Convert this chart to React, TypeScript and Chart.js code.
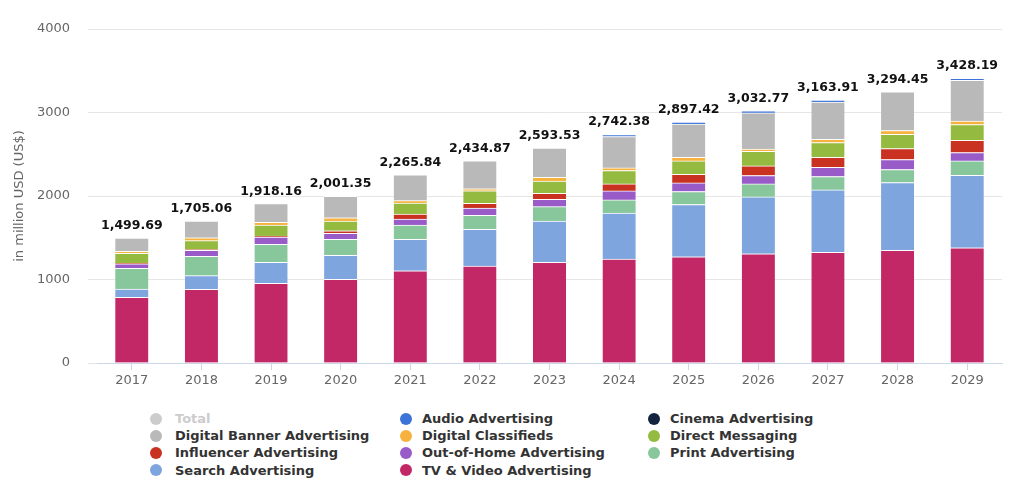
import { useEffect, useRef } from 'react';
import { Chart, registerables } from 'chart.js';

Chart.register(...registerables);

const years = ['2017', '2018', '2019', '2020', '2021', '2022', '2023', '2024', '2025', '2026', '2027', '2028', '2029'];
const totals = [1499.69, 1705.06, 1918.16, 2001.35, 2265.84, 2434.87, 2593.53, 2742.38, 2897.42, 3032.77, 3163.91, 3294.45, 3428.19];

const tvVideo = [787, 883, 954, 1002, 1105, 1162, 1206, 1244, 1272, 1307, 1324, 1348, 1379];
const searchAds = [99, 163, 252, 288, 376, 439, 495, 550, 626, 682, 749, 813, 870];
const printAds = [248, 232, 216, 191, 172, 168, 171, 159, 156, 156, 160, 156, 171];
const outOfHome = [55, 72, 87, 72, 72, 87, 88, 108, 103, 100, 111, 120, 100];
const influencer = [5, 8, 12, 31, 59, 56, 72, 84, 104, 115, 120, 131, 147];
const directMessaging = [120, 107, 132, 117, 132, 151, 148, 160, 159, 176, 176, 171, 188];
const classifieds = [24, 35, 32, 39, 28, 24, 44, 31, 44, 27, 39, 44, 43];
const digitalBanner = [159, 200, 225, 255, 311, 333, 351, 376, 396, 432, 446, 465, 487];
const audioAds = [0, 0, 0, 0, 0, 0, 0, 25, 25, 25, 25, 0, 25];
const cinemaAds = [0, 0, 0, 0, 0, 0, 0, 0, 0, 0, 0, 0, 0];

const yTicks = [0, 1000, 2000, 3000, 4000];

const COLORS = {
  total: '#cccccc',
  banner: '#b9b9b9',
  influencer: '#c93220',
  search: '#7fa5df',
  audio: '#3b73d6',
  classifieds: '#f6b23c',
  ooh: '#995bc8',
  tv: '#c32866',
  cinema: '#14243e',
  dm: '#94ba40',
  print: '#88c69b',
};

const FONT = '"DejaVu Sans", sans-serif';

const fmt = (v: number) =>
  v.toLocaleString('en-US', { minimumFractionDigits: 2, maximumFractionDigits: 2 });

const totalLabels = {
  id: 'totalLabels',
  afterDatasetsDraw(chart: any) {
    const ctx = chart.ctx;
    ctx.save();
    ctx.font = 'bold 12.5px ' + FONT;
    ctx.fillStyle = '#111111';
    ctx.textAlign = 'center';
    ctx.textBaseline = 'bottom';
    for (let i = 0; i < years.length; i++) {
      let top = Infinity;
      let x = 0;
      chart.data.datasets.forEach((ds: any, di: number) => {
        if (!chart.isDatasetVisible(di)) return;
        const el = chart.getDatasetMeta(di).data[i];
        if (!el || !ds.data[i]) return;
        if (el.y < top) {
          top = el.y;
          x = el.x;
        }
      });
      if (top < Infinity) ctx.fillText(fmt(totals[i]), x, top - 6);
    }
    ctx.restore();
  },
};

const legendItems = [
  { label: 'Total', color: COLORS.total, hidden: true, col: 0, row: 0 },
  { label: 'Digital Banner Advertising', color: COLORS.banner, col: 0, row: 1 },
  { label: 'Influencer Advertising', color: COLORS.influencer, col: 0, row: 2 },
  { label: 'Search Advertising', color: COLORS.search, col: 0, row: 3 },
  { label: 'Audio Advertising', color: COLORS.audio, col: 1, row: 0 },
  { label: 'Digital Classifieds', color: COLORS.classifieds, col: 1, row: 1 },
  { label: 'Out-of-Home Advertising', color: COLORS.ooh, col: 1, row: 2 },
  { label: 'TV & Video Advertising', color: COLORS.tv, col: 1, row: 3 },
  { label: 'Cinema Advertising', color: COLORS.cinema, col: 2, row: 0 },
  { label: 'Direct Messaging', color: COLORS.dm, col: 2, row: 1 },
  { label: 'Print Advertising', color: COLORS.print, col: 2, row: 2 },
];

const colLeft = [150, 400, 648];
const rowTop = 410;
const rowH = 17.2;

export default function App() {
  const ref = useRef<HTMLCanvasElement>(null);

  useEffect(() => {
    if (!ref.current) return;
    const mk = (label: string, data: number[], color: string) => ({
      label,
      data: data.map((v) => (v ? v : null)),
      backgroundColor: color,
      borderColor: '#ffffff',
      borderWidth: { top: 1, left: 0, right: 0, bottom: 0 },
      borderSkipped: false,
      stack: 's',
      barThickness: 33,
    });
    const chart = new Chart(ref.current, {
      type: 'bar',
      data: {
        labels: years,
        datasets: [
          mk('TV & Video Advertising', tvVideo, COLORS.tv),
          mk('Search Advertising', searchAds, COLORS.search),
          mk('Print Advertising', printAds, COLORS.print),
          mk('Out-of-Home Advertising', outOfHome, COLORS.ooh),
          mk('Influencer Advertising', influencer, COLORS.influencer),
          mk('Direct Messaging', directMessaging, COLORS.dm),
          mk('Digital Classifieds', classifieds, COLORS.classifieds),
          mk('Digital Banner Advertising', digitalBanner, COLORS.banner),
          mk('Audio Advertising', audioAds, COLORS.audio),
          mk('Cinema Advertising', cinemaAds, COLORS.cinema),
          { ...mk('Total', totals, COLORS.total), stack: 'total', hidden: true },
        ] as any,
      },
      options: {
        responsive: false,
        animation: false,
        layout: { padding: { top: 29, right: 22, bottom: 0, left: 0 } },
        plugins: {
          legend: { display: false },
          tooltip: { enabled: false },
        },
        scales: {
          x: {
            stacked: true,
            grid: {
              offset: false,
              drawOnChartArea: false,
              drawTicks: true,
              tickLength: 7,
              color: '#ccd6eb',
            },
            border: { color: '#ccd6eb' },
            ticks: {
              color: '#666666',
              font: { family: FONT, size: 13 },
              padding: 3,
              maxRotation: 0,
            },
            afterFit: (s: any) => {
              s.height = 37;
            },
          },
          y: {
            stacked: true,
            min: 0,
            max: 4000,
            afterBuildTicks: (s: any) => {
              s.ticks = yTicks.map((v) => ({ value: v }));
            },
            grid: { color: '#e6e6e6', tickLength: 9 },
            border: { display: false },
            ticks: {
              color: '#666666',
              font: { family: FONT, size: 13 },
              padding: 18,
              callback: (v: any) => String(v),
            },
            title: {
              display: true,
              text: 'in million USD (US$)',
              color: '#666666',
              font: { family: FONT, size: 13 },
              padding: { top: 12, bottom: 0 },
            },
            afterFit: (s: any) => {
              s.width = 97;
            },
          },
        },
      },
      plugins: [totalLabels],
    });
    return () => chart.destroy();
  }, []);

  return (
    <div style={{ position: 'absolute', left: 0, top: 0, width: 1024, height: 487, background: '#ffffff' }}>
      <canvas ref={ref} width={1024} height={400} style={{ position: 'absolute', left: 0, top: 0 }} />
      {legendItems.map((it) => (
        <div
          key={it.label}
          style={{
            position: 'absolute',
            left: colLeft[it.col],
            top: rowTop + it.row * rowH,
            height: rowH,
            display: 'flex',
            alignItems: 'center',
            fontFamily: FONT,
            fontWeight: 'bold',
            fontSize: 13,
            color: it.hidden ? '#cccccc' : '#333333',
            whiteSpace: 'nowrap',
          }}
        >
          <span
            style={{
              display: 'inline-block',
              width: 12,
              height: 12,
              borderRadius: 6,
              background: it.color,
              marginRight: it.col === 0 ? 13 : 10,
            }}
          />
          {it.label}
        </div>
      ))}
    </div>
  );
}
